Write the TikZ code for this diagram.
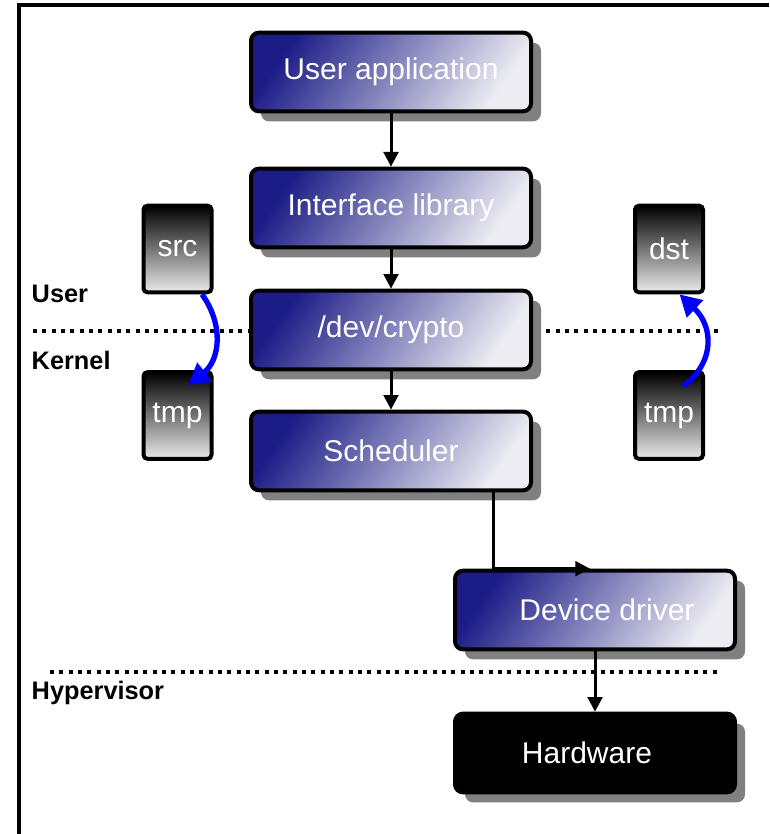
\documentclass[tikz,border=0pt]{standalone}
\usepackage{fontspec}
\setmainfont{Liberation Sans}
\usepackage{tikz}
\usetikzlibrary{calc,shadows,arrows.meta}
\definecolor{navyA}{RGB}{28,28,135}
\definecolor{navyB}{RGB}{236,236,242}

\begin{document}
\begin{tikzpicture}[x=0.75pt,y=-0.75pt,
			layer/.style={line width=3pt,rounded corners=6pt,minimum width=210pt,minimum height=59pt,text=white,
				font=\fontsize{22.5}{27}\selectfont,
				general shadow={fill=black!50,shadow xshift=7.5pt,shadow yshift=-7.5pt}},
			sw/.style={layer,draw=black,left color=navyA,right color=navyB,shading angle=55},
			hwbox/.style={layer,draw=black,fill=black},
			buf/.style={draw=black,line width=3pt,rounded corners=3pt,minimum width=51pt,minimum height=65pt,
				top color=black,bottom color=black!8,text=white,font=\fontsize{22.5}{27}\selectfont},
			flow/.style={-{Triangle[length=11pt,width=11pt]},line width=2.25pt},
			copy/.style={-{Triangle[length=16pt,width=17pt]},line width=4pt,blue},
			border/.style={dash pattern=on 3pt off 4pt,line width=2.5pt},
			side/.style={font=\bfseries\fontsize{19}{22}\selectfont,anchor=west},
			]
			\useasboundingbox (0,0) rectangle (769,834);
			% frame
			\draw[line width=3pt] (19,834) -- (19,5) -- (769,5);
			
			% privilege borders
			\draw[border] (33,331) -- (723,331);
			\draw[border] (50,672) -- (720,672);
			\node[side] (user) at (27,294) {User};
			\node[side] (kernel) at (27,360) {Kernel};
			\node[side] (hyp) at (27,693) {Hypervisor};
			
			% software stack
			\node[sw] (app) at (391,72) {User application};
			\node[sw] (lib) at (391,208) {Interface library};
			\node[sw] (crypto) at (391,330) {/dev/crypto};
			\node[sw] (sched) at (391,451) {Scheduler};
			\node[sw] (driver) at (595,610) {\hspace*{18pt}Device driver};
			\node[hwbox] (hw) at (595,753) {Hardware\hspace*{12pt}};
			
			\draw[flow] (app.south) -- (lib.north);
			\draw[flow] (lib.south) -- (crypto.north);
			\draw[flow] (crypto.south) -- (sched.north);
			\draw[flow] ($(sched.south)+(102,0)$) |- ($(driver.north)+(-5,0)$);
			\draw[flow] (driver.south) -- (hw.north);
			
			% buffers
			\node[buf] (src) at (177.5,249) {src};
			\node[buf] (tmpl) at (177.5,415.5) {tmp};
			\node[buf] (dst) at (669,249) {dst};
			\node[buf] (tmpr) at (669,415.5) {tmp};
			
			% copies across the border
			\draw[copy] ($(src.south)+(24.5,0)$) .. controls (224,325) and (220,360) .. ($(tmpl.north)+(10.5,15)$);
			\draw[copy] ($(tmpr.north)+(14.5,16)$) .. controls (717,360) and (712,325) .. ($(dst.south)+(10.5,0)$);
		\end{tikzpicture}
\end{document}
